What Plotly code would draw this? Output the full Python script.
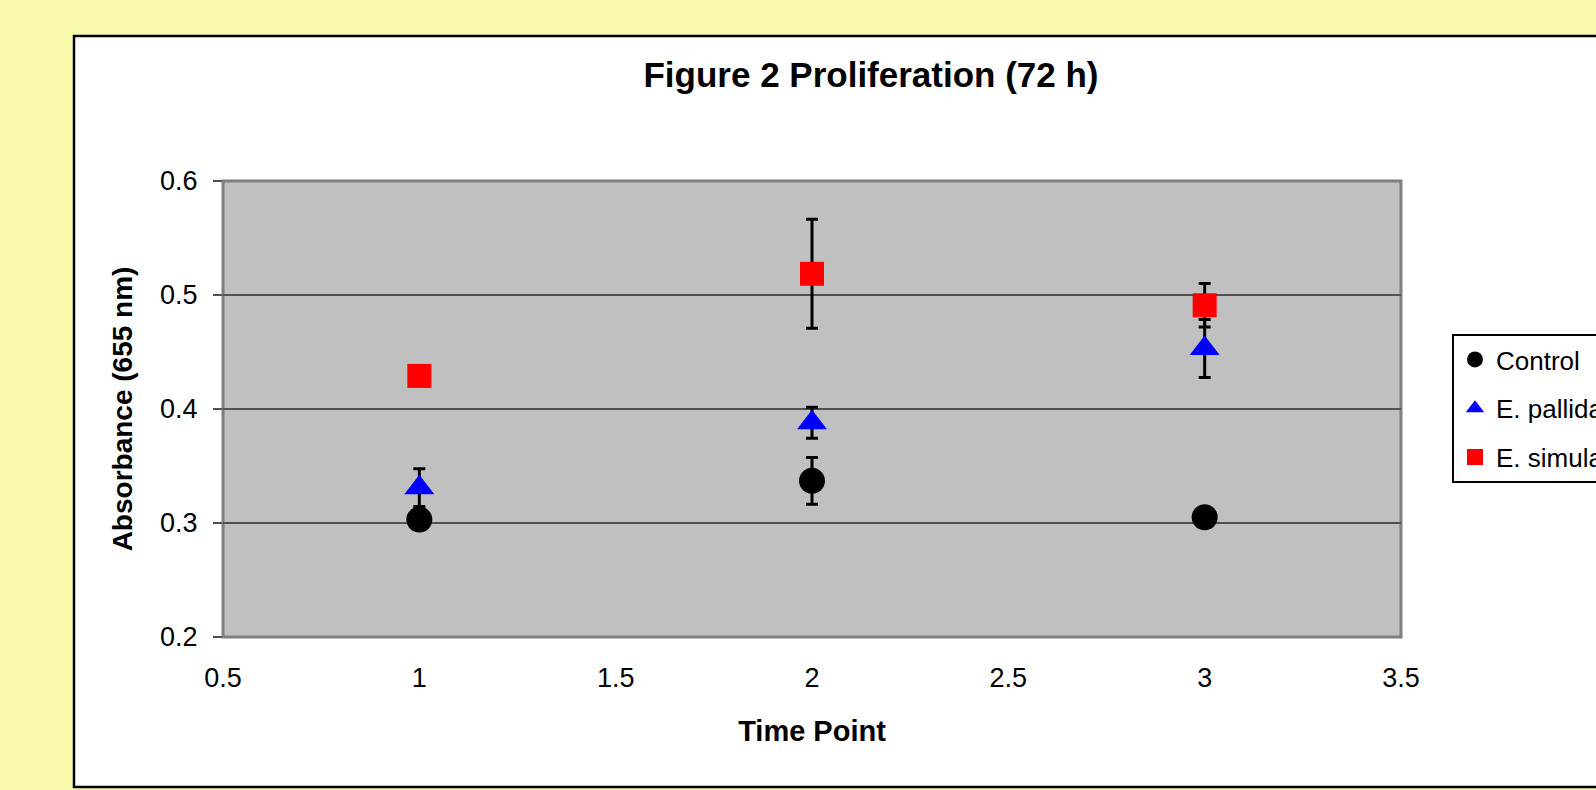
import plotly.graph_objects as go

# ---- data ----
time_points = [1, 2, 3]
series_names = ["Control", "E. pallida", "E. simulata"]
control = [0.303, 0.337, 0.305]
control_err = [0.007, 0.0205, 0.006]
pallida = [0.331, 0.388, 0.453]
pallida_err = [0.0165, 0.0136, 0.0254]
simulata = [0.429, 0.5186, 0.491]
simulata_err = [0.006, 0.0478, 0.019]

x_ticks = [0.5, 1, 1.5, 2, 2.5, 3, 3.5]
x_tick_labels = ["0.5", "1", "1.5", "2", "2.5", "3", "3.5"]
y_ticks = [0.2, 0.3, 0.4, 0.5, 0.6]
y_tick_labels = ["0.2", "0.3", "0.4", "0.5", "0.6"]

FONT = "Liberation Sans, Arial, sans-serif"
W, H = 1596, 790
L, R, T, B = 223, 1401, 181, 637  # plot area in pixels
pw, ph = R - L, B - T


def px_x(p):
    return (p - L) / pw


def px_y(p):
    return (B - p) / ph


styles = [
    dict(symbol="circle", color="black", size=26),
    dict(symbol="triangle-up", color="#0000FF", size=26),
    dict(symbol="square", color="#FF0000", size=24),
]
values = [control, pallida, simulata]
errors = [control_err, pallida_err, simulata_err]

fig = go.Figure()
for name, vals, errs, st in zip(series_names, values, errors, styles):
    fig.add_trace(go.Scatter(
        x=time_points, y=vals, mode="markers", name=name,
        legendgroup=name,
        marker=dict(symbol=st["symbol"], color=st["color"], size=st["size"],
                    line=dict(width=0)),
        error_y=dict(type="data", array=errs, visible=True,
                     color="black", thickness=3, width=6),
    ))

# white chart area and gray plot area
fig.add_shape(type="rect", xref="paper", yref="paper",
              x0=px_x(74), x1=px_x(1660), y0=px_y(787), y1=px_y(36),
              fillcolor="white", line=dict(color="black", width=2.5),
              layer="below")
fig.add_shape(type="rect", xref="paper", yref="paper",
              x0=0, x1=1, y0=0, y1=1,
              fillcolor="#C0C0C0", line=dict(color="#808080", width=3),
              layer="below")

fig.update_layout(
    width=W, height=H,
    paper_bgcolor="#FAFAAC",
    plot_bgcolor="rgba(0,0,0,0)",
    margin=dict(l=L, r=W - R, t=T, b=H - B, autoexpand=False),
    font=dict(family=FONT, color="black", size=27),
    title=dict(text="<b>Figure 2 Proliferation (72 h)</b>",
               font=dict(family=FONT, size=35, color="black"),
               x=871 / W, xanchor="center", xref="container",
               y=1 - 75 / H, yanchor="middle", yref="container"),
    showlegend=True,
    legend=dict(x=px_x(1452), y=px_y(334), xanchor="left", yanchor="top",
                bgcolor="white", bordercolor="black", borderwidth=2,
                font=dict(family=FONT, size=26, color="black"),
                tracegroupgap=12, itemwidth=32),
    xaxis=dict(range=[0.5, 3.5], tickmode="array", tickvals=x_ticks,
               ticktext=x_tick_labels, showgrid=False, zeroline=False,
               showline=False, ticks="", ticklabelstandoff=22,
               tickfont=dict(family=FONT, size=27, color="black"),
               title=dict(text="<b>Time Point</b>", standoff=28,
                          font=dict(family=FONT, size=29, color="black"))),
    yaxis=dict(range=[0.2, 0.6], tickmode="array", tickvals=y_ticks,
               ticktext=y_tick_labels, showgrid=True, gridcolor="#505050",
               gridwidth=2, zeroline=False, showline=False,
               ticks="outside", ticklen=9, tickwidth=2, tickcolor="#505050",
               ticklabelstandoff=10,
               tickfont=dict(family=FONT, size=27, color="black"),
               title=dict(text="<b>Absorbance (655 nm)</b>", standoff=19,
                          font=dict(family=FONT, size=28, color="black"))),
)

fig.write_html(
    "out.html",
    config={"displayModeBar": False},
    post_script="document.body.style.margin='0';"
                "document.body.style.background='#FAFAAC';",
)
